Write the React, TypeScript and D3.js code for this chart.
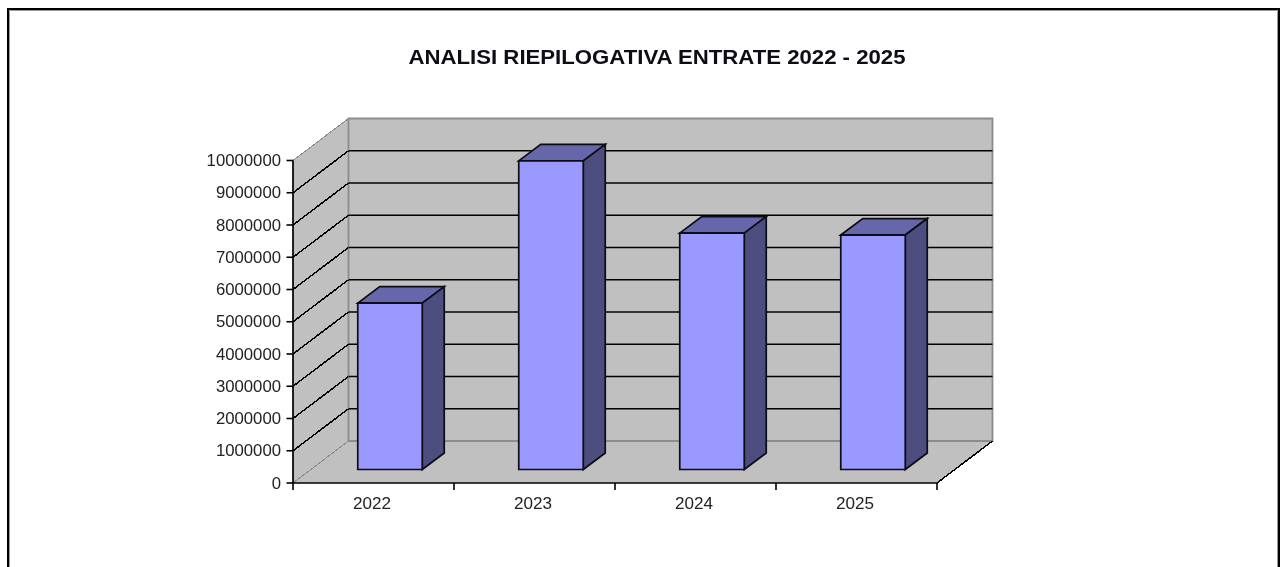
import React from 'react';
import * as d3 from 'd3';

const categories = ['2022', '2023', '2024', '2025'];
const values = [5160000, 9570000, 7330000, 7270000];
const yTicks = [0, 1000000, 2000000, 3000000, 4000000, 5000000, 6000000, 7000000, 8000000, 9000000, 10000000];
const title = 'ANALISI RIEPILOGATIVA ENTRATE 2022 - 2025';

const W = 1281, H = 567;
const x0 = 293, x1 = 937, yBase = 483, yTop = 160.5;
const depthX = 55.5, depthY = 42;
const barW = 64.5, barDX = 22, barDY = 16.5, barFrontDX = 17, barFrontDY = 13.5;

const x = d3.scaleBand<string>().domain(categories).range([x0, x1]);
const y = d3.scaleLinear().domain([0, 10000000]).range([yBase, yTop]);
const poly = (pts: [number, number][]) => d3.line()(pts) + 'Z';

const FONT = '"Liberation Sans", Arial, sans-serif';
const INK = '#0a0a14';

export default function App() {
  return (
    <svg width={W} height={H} viewBox={`0 0 ${W} ${H}`} style={{ position: 'absolute', left: 0, top: 0, background: '#fff' }}>
      <defs>
        <filter id="soft" filterUnits="userSpaceOnUse" x={0} y={0} width={W} height={H}>
          <feGaussianBlur stdDeviation="0.45" />
        </filter>
      </defs>
      <rect width={W} height={H} fill="#fff" />
      <g filter="url(#soft)">
        {/* chart frame */}
        <path d="M8 567V9H1279V567" fill="none" stroke="#000" strokeWidth={2} />
        <path d="M9.5 567V10.5H1277.5V567" fill="none" stroke="#9a9a9a" strokeWidth={1} />

        {/* walls and floor */}
        <path d={poly([[x0, yTop], [x0 + depthX, yTop - depthY], [x0 + depthX, yBase - depthY], [x0, yBase]])} fill="#c0c0c0" />
        <path d={poly([[x0 + depthX, yTop - depthY], [x1 + depthX, yTop - depthY], [x1 + depthX, yBase - depthY], [x0 + depthX, yBase - depthY]])} fill="#c0c0c0" stroke="#8c8c8c" strokeWidth={1.8} />
        <path d={poly([[x0, yBase], [x0 + depthX, yBase - depthY], [x1 + depthX, yBase - depthY], [x1, yBase]])} fill="#c0c0c0" />
        <path d={`M${x0 + depthX} ${yBase - depthY}H${x1 + depthX}`} fill="none" stroke="#8c8c8c" strokeWidth={1.8} />
        <path d={`M${x0} ${yTop}L${x0 + depthX} ${yTop - depthY}`} fill="none" stroke="#8c8c8c" strokeWidth={1} shapeRendering="crispEdges" />
        <path d={`M${x0} ${yBase}L${x0 + depthX} ${yBase - depthY}`} fill="none" stroke="#8c8c8c" strokeWidth={1} shapeRendering="crispEdges" />

        {/* gridlines */}
        {yTicks.filter(t => t !== 0 && t !== 10000000).map(t => (
          <g key={t} fill="none" stroke="#000">
            <path d={`M${x0} ${y(t)}L${x0 + depthX} ${y(t) - depthY}`} strokeWidth={1.5} shapeRendering="crispEdges" />
            <path d={`M${x0 + depthX} ${y(t) - depthY}H${x1 + depthX}`} strokeWidth={1.6} />
          </g>
        ))}
        {/* floor outer edge, right */}
        <path d={`M${x1} ${yBase}L${x1 + depthX} ${yBase - depthY}`} fill="none" stroke="#000" strokeWidth={1.5} shapeRendering="crispEdges" />

        {/* bars */}
        {categories.map((c, i) => {
          const cx = x(c)! + x.bandwidth() / 2 + barFrontDX - 0.5;
          const l = cx - barW / 2, r = cx + barW / 2;
          const b = yBase - barFrontDY;
          const t = y(values[i]) - barFrontDY;
          return (
            <g key={c} stroke={INK} strokeWidth={1.7} strokeLinejoin="miter">
              <path d={poly([[l, t], [l + barDX, t - barDY], [r + barDX, t - barDY], [r, t]])} fill="#6666aa" />
              <path d={poly([[r, t], [r + barDX, t - barDY], [r + barDX, b - barDY], [r, b]])} fill="#4d4d80" />
              <path d={poly([[l, t], [r, t], [r, b], [l, b]])} fill="#9999ff" />
            </g>
          );
        })}

        {/* axes */}
        <path d={`M${x0} ${yTop}V${yBase}H${x1}`} fill="none" stroke="#000" strokeWidth={1.7} />
        {yTicks.map(t => (
          <g key={t}>
            <line x1={x0 - 6.5} x2={x0} y1={y(t)} y2={y(t)} stroke="#000" strokeWidth={1.6} />
            <text x={x0 - 12} y={y(t) + 5.5} textAnchor="end" fontFamily={FONT} fontSize={16.5} fill="#222" textLength={String(t).length * 9.3} lengthAdjust="spacingAndGlyphs">{t}</text>
          </g>
        ))}
        {d3.range(categories.length + 1).map(i => {
          const tx = x0 + i * x.step();
          return <line key={i} x1={tx} x2={tx} y1={yBase} y2={yBase + 7} stroke="#000" strokeWidth={1.6} />;
        })}
        {categories.map(c => (
          <text key={c} x={x(c)! + x.bandwidth() / 2 - 1.5} y={508.5} textAnchor="middle" fontFamily={FONT} fontSize={16.5} fill="#222" textLength={38} lengthAdjust="spacingAndGlyphs">{c}</text>
        ))}

        <text x={657} y={63.5} textAnchor="middle" fontFamily={FONT} fontSize={21} fontWeight="bold" fill="#0a0a14" textLength={497} lengthAdjust="spacingAndGlyphs">{title}</text>
      </g>
    </svg>
  );
}
